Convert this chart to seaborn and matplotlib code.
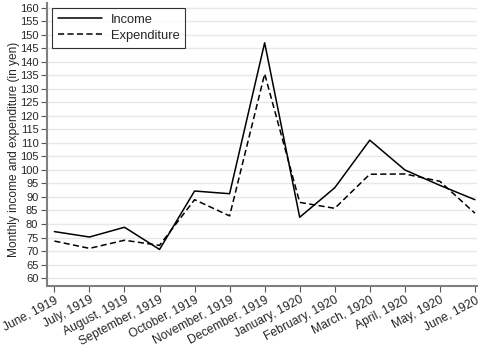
import matplotlib
matplotlib.use("Agg")
import matplotlib.pyplot as plt
import seaborn as sns
import pandas as pd

months = ["June, 1919", "July, 1919", "August, 1919", "September, 1919",
          "October, 1919", "November, 1919", "December, 1919", "January, 1920",
          "February, 1920", "March, 1920", "April, 1920", "May, 1920", "June, 1920"]
income = [77.2, 75.2, 78.8, 70.6, 92.2, 91.2, 147.0, 82.5, 93.4, 111.0, 100.0, 94.3, 89.0]
expenditure = [73.7, 71.0, 74.0, 72.1, 89.0, 83.0, 135.5, 88.0, 85.8, 98.4, 98.5, 95.8, 84.0]

sns.set_theme(style="white")
plt.rcParams['font.family'] = ['Liberation Sans', 'DejaVu Sans']

df = pd.DataFrame({
    "x": list(range(len(months))) * 2,
    "value": income + expenditure,
    "series": ["Income"] * len(months) + ["Expenditure"] * len(months),
})

fig = plt.figure(figsize=(4.8, 3.49), dpi=100)
ax = fig.add_axes([46.7 / 480, 1 - 285.7 / 349, (477 - 46.7) / 480, (285.7 - 3) / 349])

sns.lineplot(data=df, x="x", y="value", style="series", ax=ax, color="black",
             linewidth=1.1, dashes={"Income": "", "Expenditure": (4, 2.2)},
             legend=True)

ax.set_xlim(-0.22, 12.06)
ax.set_ylim(57.2, 161.7)
ax.set_yticks(range(60, 161, 5))
ax.set_xticks(range(len(months)))
ax.set_xticklabels(months, rotation=28, ha="right", rotation_mode="anchor", fontsize=8.7)
ax.tick_params(axis="y", labelsize=8.0, length=4, width=0.8, color="#555555", pad=2, left=True)
ax.tick_params(axis="x", length=4, width=0.8, color="#555555", pad=2, bottom=True)
ax.yaxis.grid(True, color="#e8e8e8", linewidth=1.0)
ax.set_axisbelow(True)
for s in ["top", "right"]:
    ax.spines[s].set_visible(False)
for s in ["left", "bottom"]:
    ax.spines[s].set_color("#808080")
    ax.spines[s].set_linewidth(1.5)
ax.set_xlabel("")
ax.set_ylabel("Monthly income and expenditure (in yen)", fontsize=8.6)
ax.yaxis.set_label_coords(-0.063, 0.482)

leg = ax.legend(loc="upper left", frameon=True, fancybox=False, fontsize=9.3,
                handlelength=3.4, handletextpad=0.7, borderpad=0.45, labelspacing=0.3,
                bbox_to_anchor=(0.012, 0.982), borderaxespad=0)
leg.get_frame().set_edgecolor("black")
leg.get_frame().set_linewidth(0.8)

fig.savefig("out.png", dpi=100)
